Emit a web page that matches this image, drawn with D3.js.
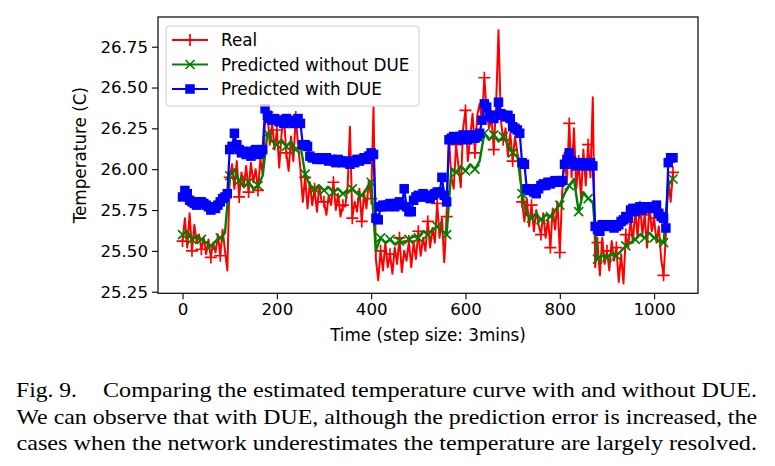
<!DOCTYPE html>
<html><head><meta charset="utf-8">
<script src="https://cdn.jsdelivr.net/npm/d3@7"></script>
<style>body{margin:0;background:#fff}</style>
</head><body><svg id="c" width="775" height="466"></svg>
<script>
// ---- data ----
const realStep = 5;     // time steps between "Real" samples
const greenStep = 10;   // time steps between "without DUE" samples
const blueStep = 5;     // time steps between "with DUE" samples
const realValues = [
25.56,25.70,25.52,25.73,25.50,25.66,25.55,25.60,25.51,25.58,25.48,25.57,25.46,25.55,25.49,25.60,25.47,25.63,25.50,25.38,
25.95,26.03,25.88,26.05,25.83,25.98,25.90,26.02,25.86,26.04,25.92,26.00,25.87,26.06,25.97,26.30,26.35,26.15,26.28,26.12,
26.24,26.01,26.22,26.32,26.10,25.99,26.20,26.05,26.32,26.15,26.00,25.80,25.95,25.76,25.92,25.78,25.88,25.74,25.90,25.80,
25.80,25.72,25.84,25.78,25.92,25.75,25.85,25.71,25.78,25.77,25.89,26.26,25.70,25.80,25.74,25.88,25.68,25.85,25.76,25.93,
25.82,26.38,25.45,25.32,25.50,25.38,25.55,25.40,25.48,25.36,25.52,25.42,25.58,25.37,25.50,25.44,25.56,25.40,25.55,25.45,
25.62,25.47,25.58,25.50,25.68,25.52,25.64,25.55,25.79,25.58,25.70,25.43,25.71,26.20,25.95,25.88,26.15,26.02,25.89,26.25,
26.36,26.05,26.20,26.34,26.10,26.33,26.40,26.30,26.56,26.35,26.25,26.32,26.12,26.40,26.85,26.30,26.18,26.25,26.08,26.22,
26.05,26.20,26.10,26.04,25.80,25.68,25.82,25.65,25.78,25.62,25.75,25.66,25.60,25.73,25.58,25.70,25.52,25.76,25.63,25.80,
25.49,25.85,26.10,25.92,26.28,25.95,26.25,25.88,26.05,25.82,26.12,25.90,26.15,25.95,26.44,25.40,25.55,25.35,25.58,25.42,
25.50,25.38,25.56,25.44,25.52,25.31,25.48,25.30,25.60,25.52,25.70,25.55,25.75,25.58,25.80,25.60,25.72,25.52,25.78,25.62,
25.70,25.55,25.65,25.45,25.35,25.60,25.95,25.80,25.98
];
const withoutDueValues = [
25.60,25.62,25.57,25.59,25.57,25.55,25.53,25.56,25.58,25.61,
25.96,26.00,25.93,25.89,25.92,25.88,25.90,25.96,26.22,26.17,
26.15,26.18,26.14,26.17,26.12,26.15,25.97,25.90,25.88,25.90,
25.87,25.89,25.86,25.88,25.85,25.86,25.88,25.85,25.84,25.88,
25.92,25.50,25.58,25.55,25.57,25.54,25.56,25.55,25.57,25.59,
25.58,25.62,25.60,25.63,25.65,25.62,25.60,26.00,25.98,26.02,
25.99,26.03,26.00,26.05,26.22,26.18,26.21,26.17,26.20,26.15,
26.10,26.08,25.85,25.72,25.70,25.73,25.69,25.72,25.71,25.75,
25.78,25.85,25.90,25.94,25.74,25.86,25.82,25.80,25.45,25.47,
25.46,25.48,25.47,25.50,25.53,25.55,25.57,25.60,25.58,25.61,
25.58,25.56,25.55,25.90,25.94
];
const withDueValues = [
25.83,25.87,25.85,25.81,25.80,25.79,25.78,25.80,25.80,25.79,25.78,25.77,25.75,25.76,25.76,25.78,25.80,25.82,25.83,25.85,
26.12,26.14,26.22,26.15,26.12,26.10,26.11,26.09,26.10,26.08,26.11,26.12,26.09,26.10,26.12,26.37,26.33,26.31,26.30,26.31,
26.30,26.29,26.30,26.28,26.31,26.29,26.30,26.28,26.29,26.31,26.28,26.15,26.15,26.14,26.08,26.07,26.07,26.06,26.07,26.06,
26.06,26.07,26.05,26.06,26.05,26.04,26.06,26.05,26.04,26.05,26.04,26.03,26.05,26.04,26.06,26.05,26.06,26.07,26.06,26.08,
26.10,26.09,25.70,25.69,25.77,25.78,25.77,25.78,25.79,25.78,25.77,25.79,25.80,25.78,25.88,25.77,25.74,25.74,25.81,25.83,
25.84,25.83,25.85,25.83,25.84,25.82,25.84,25.85,25.86,25.86,25.95,25.84,25.80,26.18,26.19,26.20,26.19,26.18,26.20,26.21,
26.19,26.18,26.20,26.21,26.19,26.20,26.22,26.30,26.40,26.38,26.33,26.32,26.31,26.33,26.41,26.34,26.33,26.32,26.33,26.31,
26.26,26.25,26.24,26.22,26.04,26.03,25.88,25.87,25.88,25.86,25.85,25.88,25.90,25.91,25.90,25.92,25.91,25.92,25.93,25.92,
25.92,25.93,26.03,26.06,26.10,26.05,26.03,26.02,26.04,26.03,26.04,26.02,26.03,26.04,26.02,25.65,25.63,25.62,25.66,25.65,
25.66,25.65,25.66,25.64,25.65,25.66,25.68,25.69,25.71,25.70,25.75,25.76,25.74,25.76,25.77,25.75,25.76,25.77,25.76,25.77,
25.76,25.78,25.73,25.71,25.70,25.64,26.04,26.07,26.07
];
const xTicks = [0, 200, 400, 600, 800, 1000];
const yTicks = [25.25, 25.50, 25.75, 26.00, 26.25, 26.50, 26.75];
const seriesNames = ["Real", "Predicted without DUE", "Predicted with DUE"];
const xLabel = "Time (step size: 3mins)";
const yLabel = "Temperature (C)";
const captionHead = "Fig. 9.";
const captionLines = [
  "Comparing the estimated temperature curve with and without DUE.",
  "We can observe that with DUE, although the prediction error is increased, the",
  "cases when the network underestimates the temperature are largely resolved."
];

// ---- layout ----
const L = 158, R = 698, T = 17, B = 293.3;
const FONT = "'DejaVu Sans', sans-serif";
const svg = d3.select("#c");
const x = d3.scaleLinear().domain([-52.05, 1093.05]).range([L, R]);
const y = d3.scaleLinear().domain([25.2402, 26.9318]).range([B, T]);

const realPts = realValues.map((v, i) => ({t: i * realStep, v}));
const greenPts = withoutDueValues.map((v, i) => ({t: i * greenStep, v}));
const bluePts = withDueValues.map((v, i) => ({t: i * blueStep, v}));

svg.append("defs").append("clipPath").attr("id", "clip")
  .append("rect").attr("x", L).attr("y", T).attr("width", R - L).attr("height", B - T);

const g = svg.append("g").attr("clip-path", "url(#clip)");
const line = d3.line().x(d => x(d.t)).y(d => y(d.v));

const plusPath = "M-6,0H6M0,-6V6";
const xPath = "M-4.5,-4.5L4.5,4.5M-4.5,4.5L4.5,-4.5";

// Real
g.append("path").datum(realPts).attr("d", line)
  .attr("fill", "none").attr("stroke", "#ff0000").attr("stroke-width", 2).attr("stroke-linejoin", "round");
g.selectAll(".pr").data(realPts.filter((d, i) => i % 4 === 0)).join("path")
  .attr("transform", d => `translate(${x(d.t)},${y(d.v)})`).attr("d", plusPath)
  .attr("stroke", "#ff0000").attr("stroke-width", 1.7).attr("fill", "none");

// Without DUE
g.append("path").datum(greenPts).attr("d", line)
  .attr("fill", "none").attr("stroke", "#008000").attr("stroke-width", 2.4).attr("stroke-linejoin", "round");
g.selectAll(".pg").data(greenPts.filter((d, i) => i % 2 === 0)).join("path")
  .attr("transform", d => `translate(${x(d.t)},${y(d.v)})`).attr("d", xPath)
  .attr("stroke", "#008000").attr("stroke-width", 1.7).attr("fill", "none");

// With DUE
g.append("path").datum(bluePts).attr("d", line)
  .attr("fill", "none").attr("stroke", "#0000ff").attr("stroke-width", 2.2).attr("stroke-linejoin", "round");
g.selectAll(".pb").data(bluePts).join("rect")
  .attr("x", d => x(d.t) - 4.75).attr("y", d => y(d.v) - 4.75)
  .attr("width", 9.5).attr("height", 9.5).attr("fill", "#0000ff");

// axes
const xAxis = svg.append("g").attr("transform", `translate(0,${B})`)
  .call(d3.axisBottom(x).tickValues(xTicks).tickSize(6).tickPadding(4).tickFormat(d3.format("d")));
const yAxis = svg.append("g").attr("transform", `translate(${L},0)`)
  .call(d3.axisLeft(y).tickValues(yTicks).tickSize(6).tickPadding(4).tickFormat(d3.format(".2f")));
[xAxis, yAxis].forEach(a => {
  a.select(".domain").remove();
  a.selectAll(".tick line").attr("stroke", "#000").attr("stroke-width", 1.1);
  a.selectAll(".tick text").attr("font-family", FONT).attr("font-size", 16.6).attr("fill", "#000");
});
svg.append("rect").attr("x", L).attr("y", T).attr("width", R - L).attr("height", B - T)
  .attr("fill", "none").attr("stroke", "#000").attr("stroke-width", 1.2);

svg.append("text").attr("x", (L + R) / 2).attr("y", 341).attr("text-anchor", "middle")
  .attr("font-family", FONT).attr("font-size", 16.8).text(xLabel);
svg.append("text").attr("transform", `translate(86,${(T + B) / 2}) rotate(-90)`).attr("text-anchor", "middle")
  .attr("font-family", FONT).attr("font-size", 16.8).text(yLabel);

// legend
const lg = svg.append("g");
lg.append("rect").attr("x", 166).attr("y", 26).attr("width", 253).attr("height", 80).attr("rx", 3)
  .attr("fill", "#fff").attr("fill-opacity", 0.8).attr("stroke", "#cccccc").attr("stroke-width", 1);
const colors = ["#ff0000", "#008000", "#0000ff"];
seriesNames.forEach((name, i) => {
  const cy = 40 + i * 24.5;
  lg.append("line").attr("x1", 172).attr("x2", 208).attr("y1", cy).attr("y2", cy)
    .attr("stroke", colors[i]).attr("stroke-width", 2.2);
  const mx = 190;
  if (i === 0) lg.append("path").attr("transform", `translate(${mx},${cy})`).attr("d", plusPath)
    .attr("stroke", colors[i]).attr("stroke-width", 1.7).attr("fill", "none");
  if (i === 1) lg.append("path").attr("transform", `translate(${mx},${cy})`).attr("d", xPath)
    .attr("stroke", colors[i]).attr("stroke-width", 1.7).attr("fill", "none");
  if (i === 2) lg.append("rect").attr("x", mx - 4.75).attr("y", cy - 4.75).attr("width", 9.5).attr("height", 9.5)
    .attr("fill", colors[i]);
  lg.append("text").attr("x", 221).attr("y", cy).attr("dy", "0.36em")
    .attr("font-family", FONT).attr("font-size", 16.8).text(name);
});

// caption
const cap = svg.append("g")
  .attr("style", "font-family: 'Liberation Serif', 'Times New Roman', Times, 'Nimbus Roman', 'FreeSerif', serif; font-size: 22px")
  .attr("fill", "#000");
cap.append("text").attr("x", 16).attr("y", 397).attr("textLength", 61).attr("lengthAdjust", "spacingAndGlyphs").text(captionHead);
cap.append("text").attr("x", 103).attr("y", 397).attr("textLength", 654).attr("lengthAdjust", "spacingAndGlyphs").text(captionLines[0]);
cap.append("text").attr("x", 16.5).attr("y", 423.5).attr("textLength", 740.5).attr("lengthAdjust", "spacingAndGlyphs").text(captionLines[1]);
cap.append("text").attr("x", 16.5).attr("y", 450).attr("textLength", 740.5).attr("lengthAdjust", "spacingAndGlyphs").text(captionLines[2]);
</script>
</body></html>
